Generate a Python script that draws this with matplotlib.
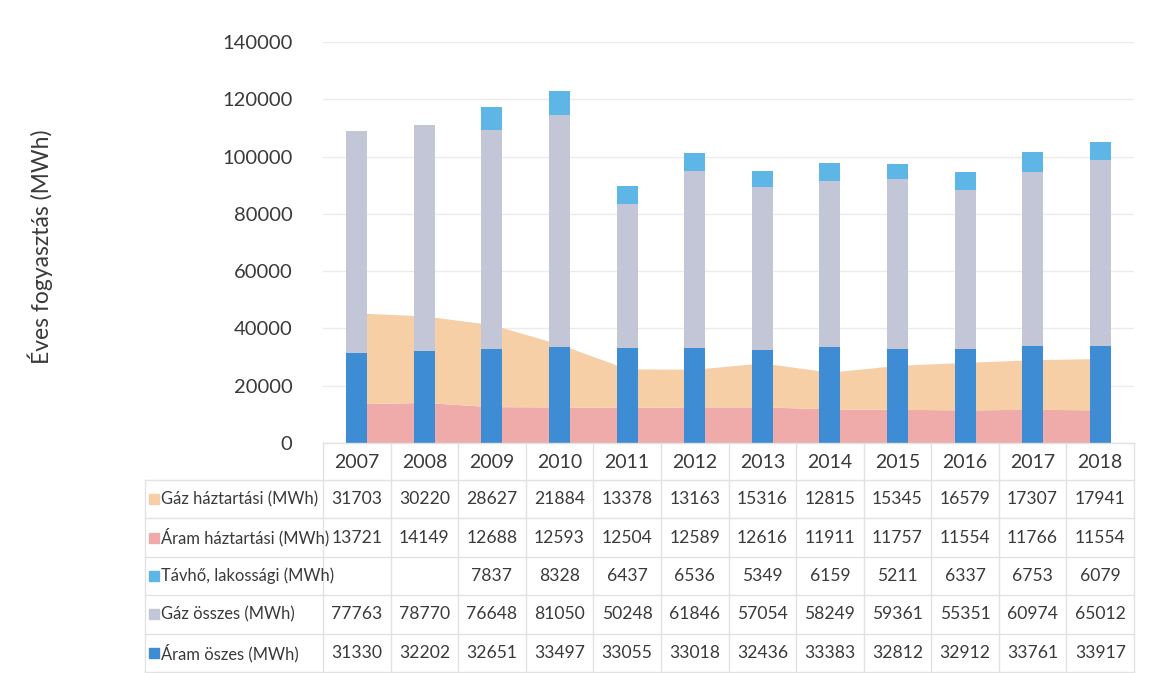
import matplotlib
matplotlib.use("Agg")
import matplotlib.pyplot as plt
import numpy as np
from matplotlib.lines import Line2D

years = ["2007", "2008", "2009", "2010", "2011", "2012", "2013", "2014", "2015", "2016", "2017", "2018"]
gaz_haztartasi = [31703, 30220, 28627, 21884, 13378, 13163, 15316, 12815, 15345, 16579, 17307, 17941]
aram_haztartasi = [13721, 14149, 12688, 12593, 12504, 12589, 12616, 11911, 11757, 11554, 11766, 11554]
tavho_lakossagi = [None, None, 7837, 8328, 6437, 6536, 5349, 6159, 5211, 6337, 6753, 6079]
gaz_osszes = [77763, 78770, 76648, 81050, 50248, 61846, 57054, 58249, 59361, 55351, 60974, 65012]
aram_osszes = [31330, 32202, 32651, 33497, 33055, 33018, 32436, 33383, 32812, 32912, 33761, 33917]

yticks = [0, 20000, 40000, 60000, 80000, 100000, 120000, 140000]
ylabel = "Éves fogyasztás (MWh)"

c_gazh = "#F7CFA6"
c_aramh = "#EFAAAA"
c_tavho = "#5DB6E6"
c_gazo = "#C3C6D6"
c_aramo = "#3E8CD4"
txt = "#3A3A3A"
grid_c = "#EBEBEB"

plt.rcParams['font.family'] = ['Lato', 'DejaVu Sans']

W, H = 1154, 673
fig = plt.figure(figsize=(W / 100, H / 100), dpi=100)
left, right, top, bottom = 323, 1134, 42, 443
ax = fig.add_axes([left / W, 1 - bottom / H, (right - left) / W, (bottom - top) / H])

x = np.arange(len(years))
ah = np.array(aram_haztartasi, float)
gh = np.array(gaz_haztartasi, float)
ax.fill_between(x, 0, ah, color=c_aramh, lw=0, zorder=1)
ax.fill_between(x, ah, ah + gh, color=c_gazh, lw=0, zorder=1)

ao = np.array(aram_osszes, float)
go = np.array(gaz_osszes, float)
tv = np.array([v if v is not None else 0 for v in tavho_lakossagi], float)
bw = 0.31
ax.bar(x, ao, bw, color=c_aramo, zorder=3)
ax.bar(x, go, bw, bottom=ao, color=c_gazo, zorder=3)
ax.bar(x, tv, bw, bottom=ao + go, color=c_tavho, zorder=3)

ax.set_xlim(-0.5, len(years) - 0.5)
ax.set_ylim(0, 140000)
ax.set_yticks(yticks)
ax.set_yticklabels([str(v) for v in yticks], fontsize=14.5, color=txt)
ax.tick_params(axis='y', length=0, pad=22)
ax.set_xticks([])
ax.grid(axis='y', color=grid_c, lw=1, zorder=0)
ax.set_axisbelow(True)
for s in ax.spines.values():
    s.set_visible(False)

fig.text(40 / W, 1 - 247 / H, ylabel, rotation=90, ha='center', va='center', fontsize=16.5, color=txt)

# data table
line_c = "#E2E2E2"
trans = matplotlib.transforms.blended_transform_factory(ax.transData, fig.transFigure)
def fy(py):
    return 1 - py / H

rows = [
    ("Gáz háztartási (MWh)", c_gazh, gaz_haztartasi),
    ("Áram háztartási (MWh)", c_aramh, aram_haztartasi),
    ("Távhő, lakossági (MWh)", c_tavho, tavho_lakossagi),
    ("Gáz összes (MWh)", c_gazo, gaz_osszes),
    ("Áram öszes (MWh)", c_aramo, aram_osszes),
]
row_top = 480
row_h = 38.4
header_y = 462
for i, yr in enumerate(years):
    fig.text(i, fy(header_y), yr, transform=trans, ha='center', va='center', fontsize=14, color=txt)
hlines_y = [bottom] + [row_top + k * row_h for k in range(len(rows) + 1)]
for k, yy in enumerate(hlines_y):
    x0 = left if k == 0 else 145
    fig.add_artist(Line2D([x0 / W, right / W], [fy(yy), fy(yy)], color=line_c, lw=1))
for i in range(len(years) + 1):
    xv = -0.5 + i
    fig.add_artist(Line2D([xv, xv], [fy(bottom), fy(hlines_y[-1])], color=line_c, lw=1, transform=trans))
fig.add_artist(Line2D([145 / W, 145 / W], [fy(row_top), fy(hlines_y[-1])], color=line_c, lw=1))

for r, (name, col, vals) in enumerate(rows):
    cy = row_top + (r + 0.5) * row_h
    fig.patches.append(matplotlib.patches.Rectangle((149 / W, fy(cy + 5)), 10 / W, 10 / H,
                                                    transform=fig.transFigure, color=col, figure=fig))
    fig.text(161 / W, fy(cy), name, ha='left', va='center', fontsize=11.9, color=txt)
    for i, v in enumerate(vals):
        if v is None:
            continue
        fig.text(i, fy(cy), str(v), transform=trans, ha='center', va='center', fontsize=12.6, color=txt)

fig.savefig("out.png", dpi=100, facecolor="white")
